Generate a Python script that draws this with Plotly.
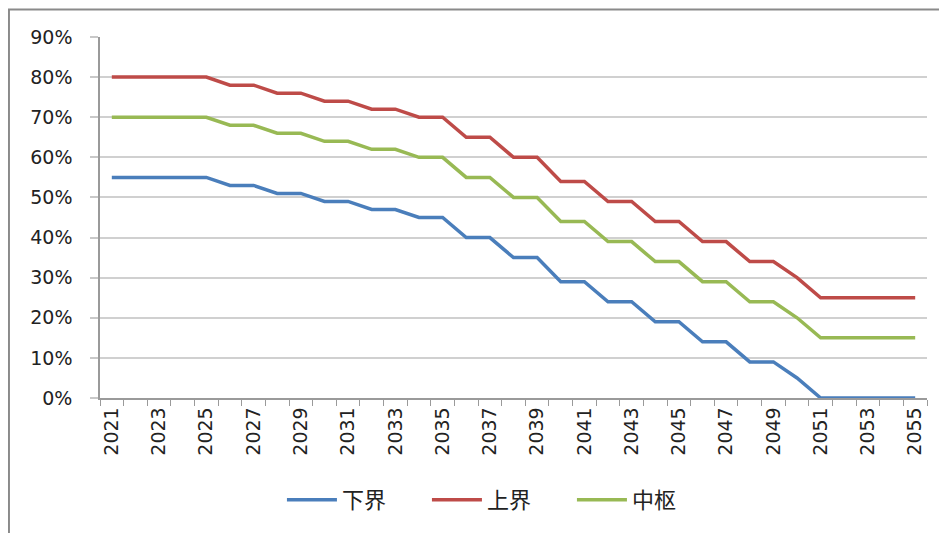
import plotly.graph_objects as go

years = list(range(2021, 2056))
lower = [55, 55, 55, 55, 55, 53, 53, 51, 51, 49, 49, 47, 47, 45, 45, 40, 40, 35, 35, 29, 29,
         24, 24, 19, 19, 14, 14, 9, 9, 5, 0, 0, 0, 0, 0]
upper = [80, 80, 80, 80, 80, 78, 78, 76, 76, 74, 74, 72, 72, 70, 70, 65, 65, 60, 60, 54, 54,
         49, 49, 44, 44, 39, 39, 34, 34, 30, 25, 25, 25, 25, 25]
middle = [70, 70, 70, 70, 70, 68, 68, 66, 66, 64, 64, 62, 62, 60, 60, 55, 55, 50, 50, 44, 44,
          39, 39, 34, 34, 29, 29, 24, 24, 20, 15, 15, 15, 15, 15]
names = ["下界", "上界", "中枢"]
colors = ["#4A7EBB", "#BE4B48", "#98B954"]
tick_years = list(range(2021, 2056, 2))

fig = go.Figure()
for name, vals, c in zip(names, [lower, upper, middle], colors):
    fig.add_trace(go.Scatter(x=years, y=[v / 100 for v in vals], mode="lines", name=name,
                             line=dict(color=c, width=3.5)))

fig.update_layout(
    width=939, height=525,
    margin=dict(l=92, r=20, t=29.5, b=135),
    paper_bgcolor="white", plot_bgcolor="white",
    showlegend=True,
    legend=dict(orientation="h", x=0.483, xanchor="center", y=-0.283, yanchor="middle",
                font=dict(family="Noto Sans CJK SC", size=22, color="#222"),
                itemwidth=50, entrywidth=80, entrywidthmode="pixels", tracegroupgap=0),
    shapes=[dict(type="rect", xref="paper", yref="paper", x0=-0.1101, x1=1.2, y0=-0.6, y1=1.0763,
                 line=dict(color="#8a8a8a", width=2), fillcolor="rgba(0,0,0,0)", layer="below")],
)
fig.update_xaxes(
    range=[2020.5, 2055.5], tickvals=tick_years, ticktext=[str(y) for y in tick_years],
    tickangle=-90, ticks="", showgrid=False,
    tickfont=dict(family="DejaVu Sans", size=19, color="#222"),
    showline=True, linecolor="#9a9a9a", linewidth=1.5,
    minor=dict(ticks="outside", ticklen=6, tick0=2020.5, dtick=1, tickcolor="#9a9a9a", tickwidth=1.2),
    zeroline=False,
)
fig.update_yaxes(
    range=[0, 0.9], dtick=0.1, tickformat=".0%",
    ticks="outside", ticklen=8, tickcolor="#c8c8c8", tickwidth=1.5,
    ticklabelstandoff=14,
    tickfont=dict(family="DejaVu Sans", size=19, color="#222"),
    showgrid=True, gridcolor="#d0d0d0", gridwidth=1.8,
    showline=True, linecolor="#9a9a9a", linewidth=1.5, zeroline=False,
)
fig.write_html("out.html")
